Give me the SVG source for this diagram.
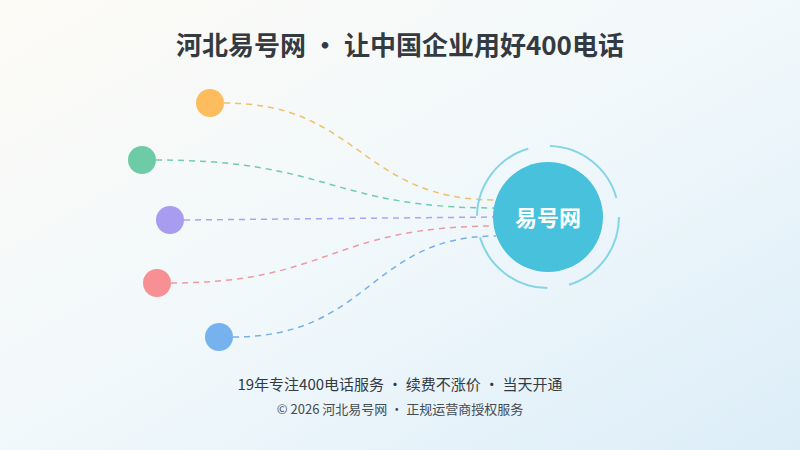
<svg xmlns="http://www.w3.org/2000/svg" width="800" height="450" viewBox="0 0 800 450">
<defs>
<linearGradient id="bg" x1="0" y1="0" x2="1" y2="1"><stop offset="0" stop-color="#fdfbf6"/><stop offset="0.5" stop-color="#f1f8fb"/><stop offset="1" stop-color="#dcedf8"/></linearGradient>
<style>
.t{font-family:"Noto Sans CJK SC","Noto Sans",sans-serif}
.c path{fill:none;stroke-width:1.5;stroke-dasharray:6 5;opacity:0.85}
</style>
</defs>
<rect width="800" height="450" fill="url(#bg)"/>
<text class="t" x="400" y="55" text-anchor="middle" font-size="26" font-weight="700" fill="#333a42">河北易号网 · 让中国企业用好400电话</text>
<g class="c" id="connectors">
<path d="M224,103 C360,103 360,200 496,200" stroke="#f0b64e"/>
<path d="M156,160 C330,160 330,208 496,208" stroke="#5cc39c"/>
<path d="M184,220 L496,217" stroke="#9c96ee"/>
<path d="M171,283 C330,283 330,226 496,226" stroke="#ec8a90"/>
<path d="M233,337 C370,337 370,236 496,236" stroke="#5fa4e4"/>
</g>
<g id="n1"><circle cx="210" cy="103" r="14" fill="#fdbd5e"/></g>
<g id="n2"><circle cx="142" cy="160" r="14" fill="#6ecba8"/></g>
<g id="n3"><circle cx="170" cy="220" r="14" fill="#a89cf0"/></g>
<g id="n4"><circle cx="157" cy="283" r="14" fill="#f79094"/></g>
<g id="n5"><circle cx="219" cy="337" r="14" fill="#75b2ee"/></g>
<g id="hub">
<circle cx="548" cy="217" r="71" fill="none" stroke="#86d5e6" stroke-width="2" stroke-dasharray="90 22"/>
<circle cx="548" cy="217" r="55" fill="#47c1dc"/>
<text class="t" x="548" y="226" text-anchor="middle" font-size="22" font-weight="700" fill="#fff">易号网</text>
</g>
<text class="t" x="400" y="390" text-anchor="middle" font-size="15" fill="#333a42">19年专注400电话服务 · 续费不涨价 · 当天开通</text>
<text class="t" x="400" y="414" text-anchor="middle" font-size="13" fill="#444b52">© 2026 河北易号网 · 正规运营商授权服务</text>
</svg>
